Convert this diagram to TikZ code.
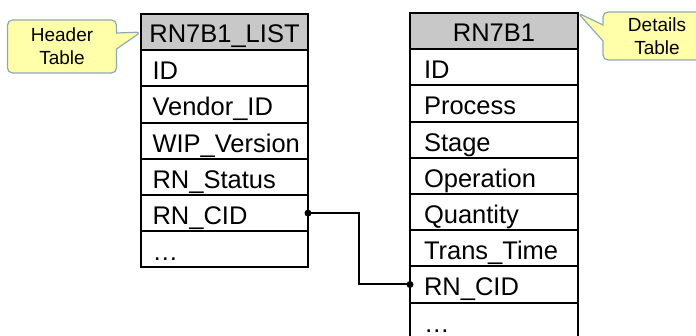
\documentclass[tikz,border=0pt]{standalone}
\usepackage{fontspec}
\setmainfont{Liberation Sans}
\usetikzlibrary{shapes.callouts, positioning}
\definecolor{headgray}{HTML}{C8C8C8}
\definecolor{notefill}{HTML}{FFFFAA}
\definecolor{noteedge}{HTML}{8DA9B5}
\hyphenpenalty=10000

\begin{document}
\begin{tikzpicture}[
    x=1pt, y=-1pt,
    tablehead/.style={draw, fill=headgray, line width=2pt, outer sep=0pt, inner xsep=2pt, minimum height=36.2pt, text height=20pt, text depth=0pt, font=\fontsize{25.5}{30}\selectfont},
    field/.style={draw, line width=2pt, outer sep=0pt, minimum height=36.2pt, text height=23pt, text depth=0pt, align=left, font=\fontsize{25.5}{30}\selectfont},
    note/.style={rectangle callout, draw=noteedge, fill=notefill, line width=1.2pt, rounded corners=5pt, callout pointer width=16pt, align=center, font=\fontsize{19}{23}\selectfont}
]
    \useasboundingbox (0,0) rectangle (696,336);

    % Header table
    \node[tablehead, minimum width=167pt] (list-0) at (224.5,32.1) {RN7B1\_LIST};
    \foreach \f [count=\i, remember=\i as \j (initially 0)] in {ID, Vendor\_ID, WIP\_Version, RN\_Status, RN\_CID, \dots}
        \node[field, text width=144pt, inner xsep=11.5pt, below=0pt of list-\j] (list-\i) {\f};

    % Details table
    \node[tablehead, minimum width=168pt] (detail-0) at (494,31.1) {RN7B1};
    \foreach \f [count=\i, remember=\i as \j (initially 0)] in {ID, Process, Stage, Operation, Quantity, Trans\_Time, RN\_CID, \dots}
        \node[field, text width=140pt, inner xsep=14pt, below=0pt of detail-\j] (detail-\i) {\f};

    % Callouts
    \node[note, minimum width=109pt, minimum height=53pt, callout absolute pointer={(list-0.west)}] (hdrnote) at (62,46.5) {Header\\Table};
    \node[note, minimum width=108pt, minimum height=48pt, callout absolute pointer={(detail-0.north east)}] (dtlnote) at (657,36) {Details\\Table};

    % Key link
    \draw[line width=2pt] (list-5.east) -- ++(51,0) |- (detail-7.west);
    \fill (list-5.east) circle (3.5pt);
    \fill (detail-7.west) circle (3.5pt);
\end{tikzpicture}
\end{document}
